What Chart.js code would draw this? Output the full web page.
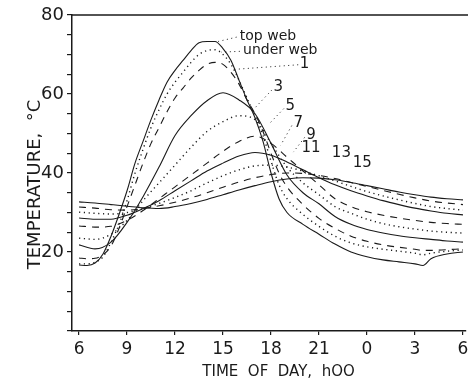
<!DOCTYPE html>
<html>
<head>
<meta charset="utf-8">
<script src="https://cdn.jsdelivr.net/npm/chart.js@4"></script>
<style>
  html, body { margin: 0; padding: 0; background: #fff; }
  #wrap { width: 468px; height: 380px; }
</style>
</head>
<body>
<div id="wrap"><canvas id="chart"></canvas></div>
<script>
// hours run 6..30 (30 = 6 h next morning)
const hoursFine = [6, 6.5, 7, 7.5, 8, 8.5, 9, 9.5, 10, 10.5, 11, 11.5, 12, 12.5, 13, 13.5, 14, 14.5, 15, 15.5, 16, 16.5, 17, 17.5, 18, 18.5, 19, 20, 21, 22, 23, 24, 25, 26, 27, 27.5, 28, 29, 30];
const hours = [6, 7, 8, 9, 10, 11, 12, 13, 14, 15, 16, 17, 18, 19, 20, 21, 22, 23, 24, 25, 26, 27, 28, 29, 30];

const topWeb   = [16.7, 16.6, 17.2, 19.5, 24, 29.5, 35.5, 42.5, 48, 53.5, 58.5, 63, 66, 68.5, 71, 73, 73.3, 73.3, 71.5, 68.5, 63.5, 58.5, 54, 48, 40, 33.5, 30, 27, 24.5, 22, 20, 18.8, 18, 17.5, 17, 16.6, 18.3, 19.5, 20];
const underWeb = [17, 17, 17.4, 18.8, 22.5, 27, 33, 40, 46, 51.5, 56, 60, 63, 65.5, 68, 70, 71, 71.2, 70, 67.5, 63.5, 59, 54.5, 49.5, 43, 37, 33.5, 29.5, 26.5, 24, 22.3, 21.3, 20.7, 20.2, 19.7, 19.3, 19.7, 20.2, 20.5];
const depth1   = [18.5, 18.3, 18.4, 19.3, 21.5, 26, 31.5, 37, 42.5, 47.5, 51.5, 55.5, 59, 61.5, 64, 66, 67.5, 68, 67.5, 65.5, 62.5, 58.5, 55, 50.5, 45, 40, 36.5, 32, 28.5, 26, 24, 22.7, 21.8, 21.2, 20.7, 20.4, 20.4, 20.6, 20.8];

const depth3  = [21.8, 20.8, 22.5, 27.5, 34, 41.5, 49.5, 54.5, 58.3, 60.3, 58.5, 55, 47.5, 39.5, 35, 32.2, 29, 27, 25.7, 24.8, 24.1, 23.6, 23.2, 22.8, 22.5];
const depth5  = [23.5, 23.2, 24.5, 28, 33, 37.5, 42, 46.5, 50.5, 53, 54.5, 53.5, 47.5, 41.5, 37.5, 34.5, 31.5, 29.8, 28.3, 27.2, 26.4, 25.8, 25.3, 25, 24.8];
const depth7  = [26.6, 26.3, 26.5, 28, 30.5, 33.5, 36.5, 39.5, 42.5, 45.5, 48, 49.3, 47.5, 44, 40.5, 37, 33.5, 31.5, 30.2, 29.3, 28.6, 28, 27.5, 27.2, 27];
const depth9  = [28.6, 28.3, 28.3, 29.3, 31, 33, 35.5, 38, 40.5, 42.5, 44.3, 45.2, 44.5, 42.8, 40.8, 38.8, 37, 35.5, 34.2, 33, 32, 31.1, 30.4, 29.8, 29.4];
const depth11 = [30.1, 29.8, 29.6, 30, 31, 32.3, 33.8, 35.5, 37.5, 39.3, 40.8, 41.8, 42, 41.5, 40.5, 39.3, 38, 36.6, 35.3, 34.2, 33.2, 32.3, 31.5, 31, 30.6];
const depth13 = [31.4, 31.1, 30.7, 30.6, 31, 31.7, 32.6, 33.7, 35, 36.4, 37.7, 38.8, 39.6, 40, 39.9, 39.4, 38.6, 37.6, 36.6, 35.6, 34.6, 33.7, 32.9, 32.4, 32];
const depth15 = [32.7, 32.4, 32, 31.6, 31.2, 31, 31.5, 32.3, 33.3, 34.5, 35.7, 36.8, 37.8, 38.5, 38.8, 38.7, 38.3, 37.6, 36.8, 36, 35.2, 34.5, 33.9, 33.5, 33.2];

const seriesNames = ['top web', 'under web', '1', '3', '5', '7', '9', '11', '13', '15'];
const seriesHours = [hoursFine, hoursFine, hoursFine, hours, hours, hours, hours, hours, hours, hours];
const seriesValues = [topWeb, underWeb, depth1, depth3, depth5, depth7, depth9, depth11, depth13, depth15];

const xTickValues = [6, 9, 12, 15, 18, 21, 24, 27, 30];
const yLabelValues = [20, 40, 60, 80];

// curve labels: text, anchor (hour, temp), leader from -> to (hour, temp)
const labelText   = ['top web', 'under web', '1', '3', '5', '7', '9', '11', '13', '15'];
const labelHour   = [16.05, 16.25, 20.1, 18.45, 19.2, 19.7, 20.5, 20.5, 22.4, 23.7];
const labelTemp   = [74.7, 71.1, 67.6, 61.8, 57, 52.7, 49.6, 46.3, 45, 42.5];
const leaderFrom  = [[15.85, 74.4], [16.05, 70.8], [19.7, 67.4], [18.05, 61], [18.8, 56.3], [19.3, 52], [20.1, 49], null, null, null];
const leaderTo    = [[14.7, 73.3], [14.9, 70.6], [15.6, 66.2], [17.0, 56.5], [17.9, 52.5], [18.6, 47], [19.4, 45.3], null, null, null];

const dashStyles = [[], [1.2, 3.6], [7, 6]];

const ink = '#1a1a1a';
const fontFamily = "'DejaVu Sans', sans-serif";
const lightFamily = "'DejaVu Sans ExtraLight', 'DejaVu Sans', sans-serif";

const datasets = seriesNames.map((name, i) => ({
  label: name,
  data: seriesHours[i].map((h, k) => ({ x: h, y: seriesValues[i][k] })),
  borderColor: ink,
  borderWidth: i % 3 === 1 ? 1.4 : 1.1,
  borderDash: dashStyles[i % 3],
  pointRadius: 0,
  fill: false,
  tension: 0.4,
  cubicInterpolationMode: 'monotone'
}));

const curveLabels = {
  id: 'curveLabels',
  afterDatasetsDraw(chart) {
    const { ctx, scales: { x, y }, chartArea } = chart;
    ctx.save();
    // top frame line
    ctx.strokeStyle = ink;
    ctx.lineWidth = 1.3;
    ctx.beginPath();
    ctx.moveTo(chartArea.left, chartArea.top);
    ctx.lineTo(chart.width, chartArea.top);
    ctx.stroke();

    // leaders
    ctx.lineWidth = 1;
    ctx.setLineDash([1, 3.5]);
    leaderFrom.forEach((p, i) => {
      if (!p) return;
      const q = leaderTo[i];
      ctx.beginPath();
      ctx.moveTo(x.getPixelForValue(p[0]), y.getPixelForValue(p[1]));
      ctx.lineTo(x.getPixelForValue(q[0]), y.getPixelForValue(q[1]));
      ctx.stroke();
    });
    ctx.setLineDash([]);

    ctx.fillStyle = ink;
    ctx.textBaseline = 'middle';
    labelText.forEach((t, i) => {
      const isWord = i < 2;
      ctx.font = (isWord ? '14px ' : '15px ') + fontFamily;
      ctx.textAlign = isWord ? 'left' : 'center';
      ctx.fillText(t, x.getPixelForValue(labelHour[i]), y.getPixelForValue(labelTemp[i]));
    });
    ctx.restore();
  }
};

const nb = '\u00a0';

new Chart(document.getElementById('chart'), {
  type: 'line',
  data: { datasets },
  options: {
    responsive: true,
    maintainAspectRatio: false,
    animation: false,
    layout: { padding: { top: 15, right: 2, left: 0, bottom: 0 } },
    plugins: { legend: { display: false }, tooltip: { enabled: false } },
    scales: {
      x: {
        type: 'linear',
        min: 5.56,
        max: 30.19,
        afterBuildTicks: s => { s.ticks = xTickValues.map(v => ({ value: v })); },
        afterFit: s => { s.height = 49; s.paddingRight = 0; s.paddingLeft = 0; },
        ticks: {
          autoSkip: false,
          maxRotation: 0,
          padding: 4,
          color: ink,
          font: { family: lightFamily, size: 17 },
          callback: v => String(v % 24)
        },
        grid: { drawOnChartArea: false, drawTicks: true, tickLength: 4, color: ink, lineWidth: 1.2 },
        border: { display: true, color: ink, width: 1.5 },
        title: {
          display: true,
          text: nb.repeat(4) + 'TIME  OF  DAY,  hOO',
          color: ink,
          font: { family: lightFamily, size: 15, lineHeight: 1 },
          padding: { top: 0, bottom: 0 }
        }
      },
      y: {
        min: 0,
        max: 80,
        afterFit: s => { s.width = 72; },
        ticks: {
          stepSize: 5,
          autoSkip: false,
          padding: 3,
          color: ink,
          font: { family: lightFamily, size: 18 },
          callback: v => (yLabelValues.includes(v) ? String(v) : '')
        },
        grid: { drawOnChartArea: false, drawTicks: true, tickLength: 5, color: ink, lineWidth: 1.2 },
        border: { display: true, color: ink, width: 1.5 },
        title: {
          display: true,
          text: 'TEMPERATURE,  °C' + nb.repeat(4),
          color: ink,
          font: { family: lightFamily, size: 18, lineHeight: 1 },
          padding: { top: 26 }
        }
      }
    }
  },
  plugins: [curveLabels]
});
</script>
</body>
</html>
